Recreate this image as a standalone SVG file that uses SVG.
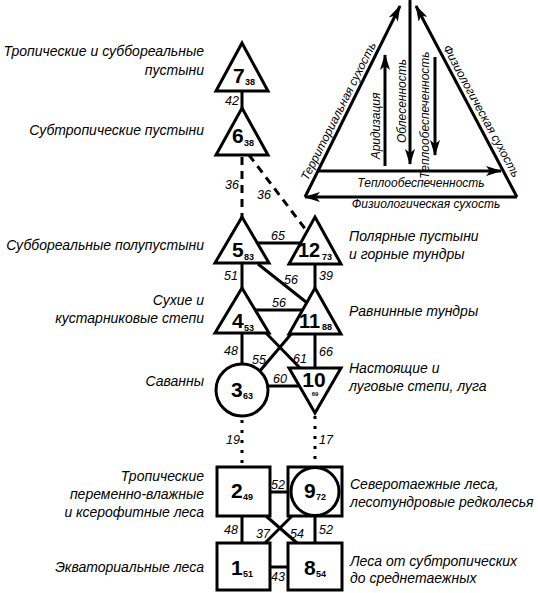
<svg xmlns="http://www.w3.org/2000/svg" width="538" height="593" viewBox="0 0 538 593">
<style>
.lbl{font-family:"Liberation Sans",Arial,sans-serif;font-style:italic;font-size:14px;fill:#000}
.e{font-family:"Liberation Sans",Arial,sans-serif;font-style:italic;font-size:12.5px;fill:#000}
.t{font-family:"Liberation Sans",Arial,sans-serif;font-style:italic;font-size:12px;fill:#000}
.n{font-family:"Liberation Sans",Arial,sans-serif;font-weight:bold;font-size:21px;fill:#000}
.s{font-family:"Liberation Sans",Arial,sans-serif;font-weight:bold;font-size:9px;fill:#000}
.shape{fill:#fff;stroke:#000;stroke-width:3;stroke-linejoin:miter}
.c{stroke:#000;stroke-width:3;fill:none}
.dash{stroke-dasharray:8 6}
.dot{stroke-dasharray:3 7}
.ax{stroke:#000;stroke-width:3;fill:none}
</style>
<defs>
<marker id="ah" viewBox="0 0 16 10" refX="15" refY="5" markerWidth="16" markerHeight="10" markerUnits="userSpaceOnUse" orient="auto">
<path d="M0,0 L16,5 L0,10 L4,5 z" fill="#000"/>
</marker>
</defs>

<!-- big triangle scheme -->
<g id="scheme">
<line class="ax" x1="305" y1="197" x2="400" y2="6" marker-end="url(#ah)"/>
<line class="ax" x1="517" y1="197" x2="416" y2="6" marker-end="url(#ah)"/>
<line class="ax" x1="517" y1="197" x2="305" y2="197" marker-end="url(#ah)"/>
<line class="ax" x1="319" y1="171" x2="501" y2="171" marker-end="url(#ah)"/>
<line class="ax" x1="410" y1="0" x2="410" y2="164" marker-end="url(#ah)"/>
<line class="ax" x1="385" y1="166" x2="385" y2="55" marker-end="url(#ah)"/>
<line class="ax" x1="435" y1="57" x2="435" y2="155" marker-end="url(#ah)"/>
<text class="t" transform="translate(342,113) rotate(-63.3)" text-anchor="middle">Территориальная сухость</text>
<text class="t" transform="translate(478,113) rotate(61.6)" text-anchor="middle">Физиологическая сухость</text>
<text class="t" transform="translate(406,101) rotate(-90)" text-anchor="middle">Облесенность</text>
<text class="t" transform="translate(380,126) rotate(-90)" text-anchor="middle">Аридизация</text>
<text class="t" transform="translate(429,115) rotate(-90)" text-anchor="middle">Теплообеспеченность</text>
<text class="t" x="421" y="187" text-anchor="middle">Теплообеспеченность</text>
<text class="t" x="426" y="208" text-anchor="middle">Физиологическая сухость</text>
</g>

<!-- connectors -->
<g id="connectors">
<line class="c" x1="242" y1="91" x2="242" y2="108"/>
<line class="c dash" x1="242" y1="157" x2="242" y2="217"/>
<line class="c dash" x1="249" y1="155" x2="306" y2="230"/>
<line class="c" x1="257" y1="243" x2="301" y2="243"/>
<line class="c" x1="242" y1="263" x2="242" y2="288"/>
<line class="c" x1="315" y1="263" x2="315" y2="288"/>
<line class="c" x1="258" y1="264" x2="306" y2="302"/>
<line class="c" x1="255" y1="310" x2="303" y2="310"/>
<line class="c" x1="242" y1="333" x2="242" y2="364"/>
<line class="c" x1="315" y1="333" x2="315" y2="368"/>
<line class="c" x1="292" y1="333" x2="259" y2="372"/>
<line class="c" x1="266" y1="333" x2="300" y2="368"/>
<line class="c" x1="267" y1="386" x2="300" y2="386"/>
<line class="c dot" x1="242" y1="420" x2="242" y2="467"/>
<line class="c dot" x1="315" y1="416" x2="315" y2="467"/>
<line class="c" x1="270" y1="492" x2="288" y2="492"/>
<line class="c" x1="242" y1="516" x2="242" y2="543"/>
<line class="c" x1="315" y1="516" x2="315" y2="543"/>
<line class="c" x1="266" y1="516" x2="297" y2="543"/>
<line class="c" x1="292" y1="516" x2="265" y2="543"/>
<line class="c" x1="270" y1="567" x2="288" y2="567"/>
<text class="e" x="239" y="105" text-anchor="end">42</text>
<text class="e" x="239" y="189" text-anchor="end">36</text>
<text class="e" x="271" y="199" text-anchor="end">36</text>
<text class="e" x="285" y="240" text-anchor="end">65</text>
<text class="e" x="238" y="280" text-anchor="end">51</text>
<text class="e" x="298" y="284" text-anchor="end">56</text>
<text class="e" x="319" y="280">39</text>
<text class="e" x="286" y="307" text-anchor="end">56</text>
<text class="e" x="238" y="355" text-anchor="end">48</text>
<text class="e" x="266" y="364" text-anchor="end">55</text>
<text class="e" x="307" y="363" text-anchor="end">61</text>
<text class="e" x="319" y="356">66</text>
<text class="e" x="287" y="383" text-anchor="end">60</text>
<text class="e" x="240" y="444" text-anchor="end">19</text>
<text class="e" x="319" y="444">17</text>
<text class="e" x="285" y="489" text-anchor="end">52</text>
<text class="e" x="238" y="534" text-anchor="end">48</text>
<text class="e" x="270" y="538" text-anchor="end">37</text>
<text class="e" x="304" y="538" text-anchor="end">54</text>
<text class="e" x="319" y="534">52</text>
<text class="e" x="285" y="581" text-anchor="end">43</text>
</g>

<!-- nodes -->
<g id="node7">
<path class="shape" d="M242,43 L268,91 L216,91 Z"/>
<text class="n" x="233" y="83">7</text><text class="s" x="245" y="85">38</text>
<text class="lbl" x="204" y="56" text-anchor="end">Тропические и суббореальные</text>
<text class="lbl" x="204" y="75" text-anchor="end">пустыни</text>
</g>
<g id="node6">
<path class="shape" d="M242,108 L268,155 L216,155 Z"/>
<text class="n" x="232" y="143">6</text><text class="s" x="244" y="146">38</text>
<text class="lbl" x="204" y="135" text-anchor="end">Субтропические пустыни</text>
</g>
<g id="node5">
<path class="shape" d="M242,217 L269,263 L215,263 Z"/>
<text class="n" x="232" y="257">5</text><text class="s" x="244" y="260">83</text>
<text class="lbl" x="204" y="250" text-anchor="end">Суббореальные полупустыни</text>
</g>
<g id="node12">
<path class="shape" d="M315,217 L341,264 L289,264 Z"/>
<text class="n" x="298" y="257" style="font-size:20px">12</text><text class="s" x="322" y="260">73</text>
<text class="lbl" x="349" y="241"> Полярные пустыни</text>
<text class="lbl" x="349" y="259">и горные тундры</text>
</g>
<g id="node4">
<path class="shape" d="M242,288 L269,333 L215,333 Z"/>
<text class="n" x="232" y="328">4</text><text class="s" x="244" y="331">53</text>
<text class="lbl" x="204" y="305" text-anchor="end">Сухие и</text>
<text class="lbl" x="204" y="323" text-anchor="end">кустарниковые степи</text>
</g>
<g id="node11">
<path class="shape" d="M315,288 L341,334 L289,334 Z"/>
<text class="n" x="299" y="328" style="font-size:20px">11</text><text class="s" x="322" y="330">88</text>
<text class="lbl" x="349" y="316">Равнинные тундры</text>
</g>
<g id="node3">
<circle class="shape" cx="242" cy="390" r="26"/>
<text class="n" x="231" y="397">3</text><text class="s" x="243" y="399">63</text>
<text class="lbl" x="204" y="386" text-anchor="end">Саванны</text>
</g>
<g id="node10">
<path class="shape" d="M289,368 L341,368 L315,413 Z"/>
<text class="n" x="314" y="387" text-anchor="middle">10</text>
<text class="s" x="315" y="396" text-anchor="middle" style="font-size:6px">69</text>
<text class="lbl" x="349" y="373">Настоящие и</text>
<text class="lbl" x="349" y="391">луговые степи, луга</text>
</g>
<g id="node2">
<rect class="shape" x="217" y="467" width="53" height="49"/>
<text class="n" x="231" y="498">2</text><text class="s" x="243" y="500">49</text>
<text class="lbl" x="204" y="481" text-anchor="end">Тропические</text>
<text class="lbl" x="204" y="499" text-anchor="end">переменно-влажные</text>
<text class="lbl" x="204" y="517" text-anchor="end">и ксерофитные леса</text>
</g>
<g id="node9">
<rect class="shape" x="288" y="467" width="54" height="49"/>
<circle class="shape" cx="315" cy="491.5" r="24"/>
<text class="n" x="304" y="498">9</text><text class="s" x="316" y="500">72</text>
<text class="lbl" x="350" y="489">Северотаежные леса,</text>
<text class="lbl" x="350" y="507">лесотундровые редколесья</text>
</g>
<g id="node1">
<rect class="shape" x="217" y="543" width="53" height="47"/>
<text class="n" x="231" y="575">1</text><text class="s" x="243" y="577">51</text>
<text class="lbl" x="204" y="572" text-anchor="end">Экваториальные леса</text>
</g>
<g id="node8">
<rect class="shape" x="288" y="543" width="54" height="47"/>
<text class="n" x="304" y="575">8</text><text class="s" x="316" y="577">54</text>
<text class="lbl" x="350" y="566">Леса от субтропических</text>
<text class="lbl" x="350" y="583">до среднетаежных</text>
</g>
</svg>
